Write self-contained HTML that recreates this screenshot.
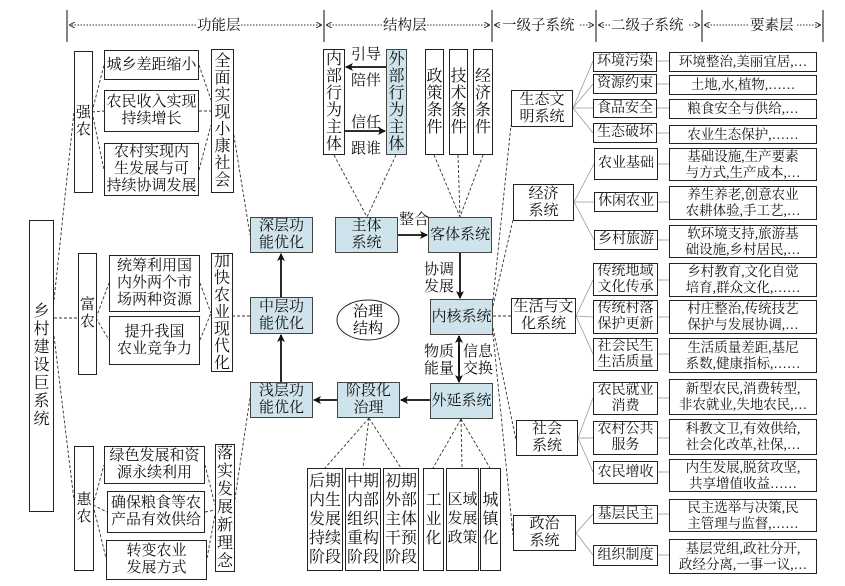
<!DOCTYPE html>
<html><head><meta charset="utf-8">
<style>
body{margin:0;background:#fff}
#c{position:relative;width:845px;height:586px;overflow:hidden;font-family:"Liberation Serif","Noto Serif CJK SC",serif;color:#111}
.b{position:absolute;border:1px solid #222;display:flex;align-items:center;justify-content:center;text-align:center;box-sizing:border-box;font-size:15px;line-height:17px;background:#fff;padding:0;overflow:hidden}
.bl{background:#cfe3ec;border:1.5px solid #444}
.s{font-size:14px;line-height:16px}
.t{font-size:13.5px;line-height:16px;border:1.5px solid #222}
.tx{position:absolute;font-size:15px;line-height:17px}
svg{position:absolute;left:0;top:0}
</style></head><body><div id="c">
<svg width="845" height="586">
<defs>
<marker id="a" markerWidth="8" markerHeight="8" refX="7" refY="4" orient="auto" markerUnits="userSpaceOnUse"><path d="M0,0 L8,4 L0,8 L2,4 Z" fill="#111"/></marker>
<marker id="h" markerWidth="6" markerHeight="6" refX="5" refY="3" orient="auto" markerUnits="userSpaceOnUse"><path d="M0,0 L6,3 L0,6" fill="none" stroke="#333"/></marker>
</defs>
<g stroke="#333" stroke-width="1.2">
<line x1="67" y1="10" x2="67" y2="42"/><line x1="324" y1="10" x2="324" y2="42"/><line x1="492" y1="10" x2="492" y2="42"/><line x1="596" y1="10" x2="596" y2="42"/><line x1="702" y1="10" x2="702" y2="42"/><line x1="823" y1="10" x2="823" y2="42"/>
</g>
<g stroke="#333" stroke-width="1" stroke-dasharray="1.5 1.5" fill="none">
<line x1="196" y1="25" x2="70" y2="25" marker-end="url(#h)"/><line x1="241" y1="25" x2="321" y2="25" marker-end="url(#h)"/>
<line x1="382" y1="25" x2="327" y2="25" marker-end="url(#h)"/><line x1="421" y1="25" x2="489" y2="25" marker-end="url(#h)"/>
<line x1="500" y1="25" x2="495" y2="25" marker-end="url(#h)"/><line x1="580" y1="25" x2="593" y2="25" marker-end="url(#h)"/>
<line x1="610" y1="25" x2="599" y2="25" marker-end="url(#h)"/><line x1="689" y1="25" x2="699" y2="25" marker-end="url(#h)"/>
<line x1="748" y1="25" x2="705" y2="25" marker-end="url(#h)"/><line x1="797" y1="25" x2="820" y2="25" marker-end="url(#h)"/>
</g>
<g font-size="14.5" fill="#111" font-family="Liberation Serif, Noto Serif CJK SC, serif">
<text x="197" y="30">功能层</text><text x="383" y="30">结构层</text><text x="502" y="30">一级子系统</text><text x="611" y="30">二级子系统</text><text x="750" y="30">要素层</text>
</g>
<g stroke="#333" stroke-width="0.9" stroke-dasharray="3 2" fill="none">
<line x1="54" y1="300" x2="74" y2="112"/><line x1="54" y1="318" x2="78" y2="318"/><line x1="54" y1="336" x2="74" y2="500"/>
<line x1="92" y1="112" x2="104" y2="65"/><line x1="92" y1="112" x2="104" y2="111"/><line x1="92" y1="112" x2="104" y2="170"/>
<line x1="199" y1="65" x2="211" y2="100"/><line x1="199" y1="111" x2="211" y2="111"/><line x1="199" y1="170" x2="211" y2="125"/>
<line x1="233" y1="130" x2="250" y2="235"/>
<line x1="96" y1="318" x2="109" y2="283"/><line x1="96" y1="318" x2="109" y2="340"/>
<line x1="200" y1="283" x2="211" y2="313"/><line x1="200" y1="340" x2="211" y2="313"/>
<line x1="232" y1="316" x2="250" y2="316"/>
<line x1="93" y1="505" x2="104" y2="465"/><line x1="93" y1="505" x2="107" y2="512"/><line x1="93" y1="505" x2="106" y2="558"/>
<line x1="205" y1="465" x2="215" y2="505"/><line x1="205" y1="512" x2="215" y2="510"/><line x1="207" y1="558" x2="215" y2="515"/>
<line x1="234" y1="505" x2="250" y2="398"/>
<line x1="334" y1="155" x2="367" y2="217"/><line x1="396" y1="155" x2="367" y2="217"/>
<line x1="434" y1="155" x2="460" y2="217"/><line x1="458" y1="155" x2="460" y2="217"/><line x1="483" y1="155" x2="460" y2="217"/>
<line x1="369" y1="418" x2="325" y2="468"/><line x1="369" y1="418" x2="363" y2="468"/><line x1="369" y1="418" x2="401" y2="468"/>
<line x1="461" y1="419" x2="433" y2="468"/><line x1="461" y1="419" x2="462" y2="468"/><line x1="461" y1="419" x2="490" y2="468"/>
<line x1="493" y1="300" x2="511" y2="125"/><line x1="493" y1="306" x2="513" y2="220"/><line x1="493" y1="316" x2="511" y2="316"/><line x1="493" y1="328" x2="516" y2="440"/><line x1="493" y1="334" x2="513" y2="535"/>
</g>
<g stroke="#111" stroke-width="1.8" fill="none">
<line x1="386" y1="67" x2="346" y2="67" marker-end="url(#a)"/>
<line x1="345" y1="131" x2="385" y2="131" marker-end="url(#a)"/>
<line x1="398" y1="235" x2="427" y2="235" marker-end="url(#a)"/>
<line x1="460" y1="253" x2="460" y2="298" marker-end="url(#a)"/>
<line x1="459" y1="345" x2="459" y2="382" marker-end="url(#a)"/>
<line x1="459" y1="372" x2="459" y2="336" marker-end="url(#a)"/>
<line x1="430" y1="400" x2="401" y2="400" marker-end="url(#a)"/>
<line x1="337" y1="400" x2="314" y2="400" marker-end="url(#a)"/>
<line x1="281" y1="382" x2="281" y2="335" marker-end="url(#a)"/>
<line x1="281" y1="297" x2="281" y2="254" marker-end="url(#a)"/>
</g>
<g stroke="#999" stroke-width="0.8">
<line x1="573" y1="108" x2="593" y2="61"/><line x1="573" y1="108" x2="593" y2="84"/><line x1="573" y1="108" x2="593" y2="108"/><line x1="573" y1="108" x2="593" y2="133"/>
<line x1="574" y1="202" x2="594" y2="164"/><line x1="574" y1="202" x2="594" y2="202"/><line x1="574" y1="202" x2="594" y2="240"/>
<line x1="576" y1="316" x2="593" y2="280"/><line x1="576" y1="316" x2="593" y2="317"/><line x1="576" y1="316" x2="593" y2="354"/>
<line x1="578" y1="438" x2="593" y2="398"/><line x1="578" y1="438" x2="593" y2="438"/><line x1="578" y1="438" x2="593" y2="472"/>
<line x1="576" y1="533" x2="593" y2="514"/><line x1="576" y1="533" x2="593" y2="555"/>
<line x1="657" y1="61" x2="669" y2="61"/><line x1="657" y1="84" x2="669" y2="84"/><line x1="657" y1="108" x2="669" y2="108"/><line x1="657" y1="133" x2="669" y2="133"/>
<line x1="658" y1="164" x2="669" y2="164"/><line x1="658" y1="202" x2="669" y2="202"/><line x1="658" y1="240" x2="669" y2="240"/>
<line x1="658" y1="280" x2="669" y2="280"/><line x1="658" y1="317" x2="669" y2="317"/><line x1="658" y1="354" x2="669" y2="354"/>
<line x1="658" y1="398" x2="669" y2="398"/><line x1="658" y1="438" x2="669" y2="438"/><line x1="658" y1="472" x2="669" y2="472"/>
<line x1="658" y1="514" x2="669" y2="514"/><line x1="658" y1="555" x2="669" y2="555"/>
</g>
<ellipse cx="368" cy="320" rx="31" ry="20" fill="#fff" stroke="#222" stroke-width="1"/>
<text x="368" y="316" text-anchor="middle" font-size="15" font-family="Liberation Serif, Noto Serif CJK SC, serif">治理</text>
<text x="368" y="333" text-anchor="middle" font-size="15" font-family="Liberation Serif, Noto Serif CJK SC, serif">结构</text>
</svg>

<div class="b" style="left:29px;top:220px;width:25px;height:292px;font-size:16px;line-height:18px;border-width:1.5px">乡村建设巨系统</div>
<div class="b" style="left:74px;top:51px;width:19px;height:142px">强农</div>
<div class="b" style="left:78px;top:253px;width:19px;height:122px">富农</div>
<div class="b" style="left:74px;top:446px;width:20px;height:125px">惠农</div>

<div class="b" style="left:104px;top:50px;width:95px;height:30px">城乡差距缩小</div>
<div class="b" style="left:104px;top:90px;width:95px;height:42px">农民收入实现<br>持续增长</div>
<div class="b" style="left:104px;top:143px;width:95px;height:53px">农村实现内<br>生发展与可<br>持续协调发展</div>
<div class="b" style="left:211px;top:49px;width:23px;height:144px;font-size:16px">全面实现小康社会</div>

<div class="b" style="left:109px;top:255px;width:91px;height:57px">统筹利用国<br>内外两个市<br>场两种资源</div>
<div class="b" style="left:109px;top:316px;width:91px;height:49px">提升我国<br>农业竞争力</div>
<div class="b" style="left:211px;top:253px;width:22px;height:119px;font-size:16px">加快农业现代化</div>

<div class="b" style="left:104px;top:446px;width:101px;height:38px">绿色发展和资<br>源永续利用</div>
<div class="b" style="left:107px;top:491px;width:98px;height:42px">确保粮食等农<br>产品有效供给</div>
<div class="b" style="left:106px;top:540px;width:101px;height:40px">转变农业<br>发展方式</div>
<div class="b" style="left:215px;top:444px;width:20px;height:128px;font-size:16px;line-height:18px">落实发展新理念</div>

<div class="b bl" style="left:250px;top:217px;width:63px;height:36px">深层功<br>能优化</div>
<div class="b bl" style="left:250px;top:297px;width:63px;height:37px">中层功<br>能优化</div>
<div class="b bl" style="left:250px;top:382px;width:63px;height:36px">浅层功<br>能优化</div>
<div class="b bl" style="left:337px;top:382px;width:63px;height:36px">阶段化<br>治理</div>
<div class="b bl" style="left:335px;top:217px;width:63px;height:36px">主体<br>系统</div>
<div class="b bl" style="left:428px;top:217px;width:64px;height:36px">客体系统</div>
<div class="b bl" style="left:430px;top:299px;width:63px;height:36px">内核系统</div>
<div class="b bl" style="left:430px;top:383px;width:63px;height:36px">外延系统</div>

<div class="b" style="left:323px;top:49px;width:22px;height:106px;font-size:16px">内部行为主体</div>
<div class="b bl" style="left:386px;top:49px;width:21px;height:106px;font-size:16px">外部行为主体</div>
<div class="tx" style="left:351px;top:47px">引导</div>
<div class="tx" style="left:351px;top:73px">陪伴</div>
<div class="tx" style="left:351px;top:115px">信任</div>
<div class="tx" style="left:351px;top:141px">跟谁</div>
<div class="tx" style="left:399px;top:212px">整合</div>
<div class="tx" style="left:424px;top:262px">协调<br>发展</div>
<div class="tx" style="left:424px;top:344px">物质<br>能量</div>
<div class="tx" style="left:463px;top:344px">信息<br>交换</div>

<div class="b" style="left:425px;top:49px;width:19px;height:106px;font-size:16px">政策条件</div>
<div class="b" style="left:449px;top:49px;width:19px;height:106px;font-size:16px">技术条件</div>
<div class="b" style="left:473px;top:49px;width:20px;height:106px;font-size:16px">经济条件</div>

<div class="b" style="left:307px;top:468px;width:36px;height:103px;font-size:16px;line-height:19px">后期内生发展持续阶段</div>
<div class="b" style="left:345px;top:468px;width:36px;height:103px;font-size:16px;line-height:19px">中期内部组织重构阶段</div>
<div class="b" style="left:383px;top:468px;width:36px;height:103px;font-size:16px;line-height:19px">初期外部主体干预阶段</div>
<div class="b" style="left:423px;top:468px;width:21px;height:103px;font-size:16px;line-height:19px">工业化</div>
<div class="b" style="left:446px;top:468px;width:33px;height:103px;font-size:15px;line-height:19px">区域发展政策</div>
<div class="b" style="left:480px;top:468px;width:21px;height:103px;font-size:16px;line-height:19px">城镇化</div>

<div class="b" style="left:511px;top:90px;width:62px;height:37px">生态文<br>明系统</div>
<div class="b" style="left:513px;top:184px;width:61px;height:37px">经济<br>系统</div>
<div class="b" style="left:511px;top:298px;width:65px;height:36px">生活与文<br>化系统</div>
<div class="b" style="left:516px;top:420px;width:62px;height:36px">社会<br>系统</div>
<div class="b" style="left:513px;top:515px;width:63px;height:36px">政治<br>系统</div>

<div class="b s" style="left:593px;top:52px;width:64px;height:20px">环境污染</div>
<div class="b s" style="left:593px;top:74px;width:64px;height:20px">资源约束</div>
<div class="b s" style="left:593px;top:99px;width:64px;height:19px">食品安全</div>
<div class="b s" style="left:593px;top:123px;width:64px;height:20px">生态破坏</div>
<div class="b s" style="left:594px;top:148px;width:64px;height:32px">农业基础</div>
<div class="b s" style="left:594px;top:192px;width:64px;height:20px">休闲农业</div>
<div class="b s" style="left:594px;top:230px;width:64px;height:20px">乡村旅游</div>
<div class="b s" style="left:593px;top:263px;width:65px;height:33px">传统地域<br>文化传承</div>
<div class="b s" style="left:593px;top:300px;width:65px;height:34px">传统村落<br>保护更新</div>
<div class="b s" style="left:593px;top:338px;width:65px;height:33px">社会民生<br>生活质量</div>
<div class="b s" style="left:593px;top:382px;width:65px;height:33px">农民就业<br>消费</div>
<div class="b s" style="left:593px;top:421px;width:65px;height:34px">农村公共<br>服务</div>
<div class="b s" style="left:593px;top:461px;width:65px;height:23px">农民增收</div>
<div class="b s" style="left:593px;top:505px;width:65px;height:19px">基层民主</div>
<div class="b s" style="left:593px;top:545px;width:65px;height:21px">组织制度</div>

<div class="b t" style="left:669px;top:52px;width:148px;height:20px">环境整治,美丽宜居,…</div>
<div class="b t" style="left:669px;top:75px;width:148px;height:20px">土地,水,植物,……</div>
<div class="b t" style="left:669px;top:99px;width:148px;height:20px">粮食安全与供给,…</div>
<div class="b t" style="left:669px;top:125px;width:148px;height:19px">农业生态保护,……</div>
<div class="b t" style="left:669px;top:148px;width:148px;height:33px">基础设施,生产要素<br>与方式,生产成本,…</div>
<div class="b t" style="left:669px;top:186px;width:148px;height:34px">养生养老,创意农业<br>农耕体验,手工艺,…</div>
<div class="b t" style="left:669px;top:225px;width:148px;height:33px">软环境支持,旅游基<br>础设施,乡村居民,…</div>
<div class="b t" style="left:669px;top:263px;width:148px;height:34px">乡村教育,文化自觉<br>培育,群众文化,……</div>
<div class="b t" style="left:669px;top:300px;width:148px;height:34px">村庄整治,传统技艺<br>保护与发展协调,…</div>
<div class="b t" style="left:669px;top:338px;width:148px;height:35px">生活质量差距,基尼<br>系数,健康指标,……</div>
<div class="b t" style="left:669px;top:379px;width:148px;height:36px">新型农民,消费转型,<br>非农就业,失地农民,…</div>
<div class="b t" style="left:669px;top:419px;width:148px;height:36px">科教文卫,有效供给,<br>社会化改革,社保,…</div>
<div class="b t" style="left:669px;top:459px;width:148px;height:33px">内生发展,脱贫攻坚,<br>共享增值收益……</div>
<div class="b t" style="left:669px;top:499px;width:148px;height:33px">民主选举与决策,民<br>主管理与监督,……</div>
<div class="b t" style="left:669px;top:539px;width:148px;height:35px">基层党组,政社分开,<br>政经分离,一事一议,…</div>
</div></body></html>
